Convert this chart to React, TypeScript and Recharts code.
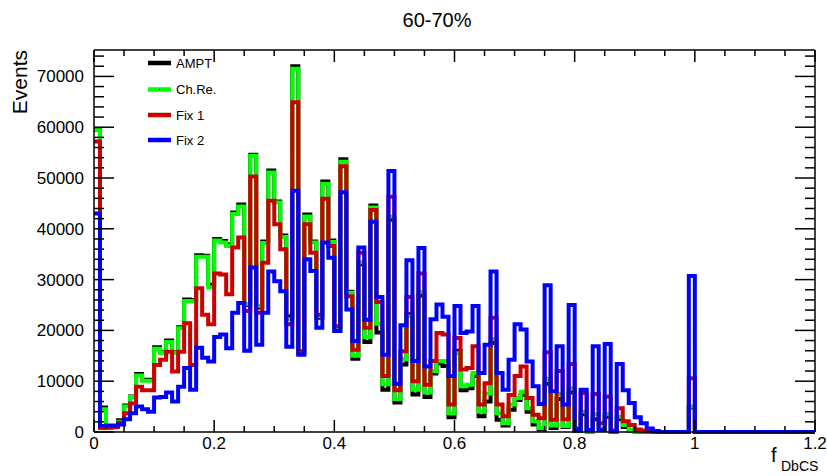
import React from 'react';
import { LineChart, Line, XAxis, YAxis, ReferenceLine } from 'recharts';

// ---- data (bin contents, bin width 0.01, bins 0.00 .. 0.99; 1.00..1.19 empty) ----
const BIN_WIDTH = 0.01;
const N_BINS = 120;

const ampt = [
  59600, 4800, 800, 1000, 2300, 5200, 7000, 11400, 10300, 10300,
  16700, 15700, 18000, 15700, 20600, 26100, 26000, 34800, 34700, 29000,
  38000, 37600, 36900, 43200, 44800, 25000, 54600, 24500, 37500, 51500,
  45400, 38700, 22800, 72000, 15500, 42800, 37500, 22500, 49300, 37700,
  20000, 53700, 27600, 14400, 33000, 17700, 44600, 19600, 8300, 41800,
  5800, 13300, 23200, 7400, 26800, 6900, 11500, 13500, 13000, 2900,
  16000, 8200, 8600, 11000, 3100, 6000, 17500, 2400, 1300, 4400,
  6300, 7300, 4000, 1500, 500, 9500, 800, 6500, 1000, 7800,
  200, 3500, 100, 2500, 400, 3000, 100, 2500, 1000, 300,
  100, 50, 0, 0, 0, 0, 0, 0, 0, 4800,
];

const chRe = [
  59400, 4500, 800, 1000, 2000, 5000, 6900, 11100, 10100, 10100,
  16400, 15600, 17700, 15600, 20400, 25800, 25800, 34500, 34500, 28500,
  37700, 37300, 36600, 42900, 44400, 25200, 54400, 24800, 37200, 51100,
  45200, 38400, 22200, 71500, 15900, 42400, 37300, 22800, 48800, 37400,
  20300, 53200, 27400, 15000, 33400, 18700, 44200, 21300, 9400, 42400,
  6500, 14300, 22800, 8300, 27600, 7800, 12000, 14000, 14000, 3700,
  15500, 9000, 9300, 11600, 4000, 7600, 18300, 3700, 1700, 5400,
  6700, 7900, 4700, 2100, 800, 10500, 1300, 7500, 1200, 8600,
  300, 4000, 200, 3500, 700, 3500, 100, 3000, 1400, 400,
  200, 100, 0, 0, 0, 0, 0, 0, 0, 5000,
];

const fix1 = [
  57200, 800, 900, 1000, 1800, 3700, 5600, 8900, 8200, 8200,
  13200, 14200, 15800, 11900, 15800, 21400, 13200, 28300, 23100, 21200,
  31200, 31000, 27100, 36300, 38300, 23800, 50300, 23500, 33300, 45500,
  40900, 36000, 21200, 64900, 15900, 40900, 35300, 23100, 45900, 36600,
  20800, 52300, 26700, 16200, 35300, 20500, 43700, 25600, 11000, 46300,
  8200, 15900, 26600, 10000, 31200, 9300, 14000, 19500, 19200, 5400,
  18500, 12300, 12600, 16900, 5400, 9600, 22500, 5400, 3100, 7300,
  11000, 12900, 6700, 3400, 2700, 15700, 2400, 12000, 2500, 13400,
  700, 7700, 400, 7500, 1700, 7000, 300, 4700, 2100, 1400,
  500, 300, 100, 0, 0, 0, 0, 0, 0, 10600,
];

const fix2 = [
  43000, 1200, 1300, 1300, 1500, 2500, 3700, 5000, 4500, 4000,
  6800, 6900, 7800, 6000, 8900, 12600, 8300, 16600, 14600, 13900,
  18700, 19200, 16500, 23500, 25400, 16000, 32400, 17200, 23500, 31600,
  29700, 27700, 16800, 47500, 15200, 34000, 31700, 20500, 37300, 34300,
  19900, 47200, 24100, 17900, 36300, 22100, 41400, 26600, 15200, 51400,
  9500, 21000, 33800, 14000, 36200, 12900, 22200, 25100, 22700, 11000,
  24800, 19500, 19800, 24800, 11600, 17200, 31600, 11600, 8300, 14200,
  21200, 20200, 13900, 9000, 5500, 28900, 8000, 16900, 5400, 25000,
  400, 8300, 400, 16900, 400, 17300, 100, 13400, 8200, 5700,
  2900, 1700, 700, 200, 0, 0, 0, 0, 0, 30700,
];

const xMajorTicks = [0, 0.2, 0.4, 0.6, 0.8, 1, 1.2];
const xMinorTicks = [0.05, 0.1, 0.15, 0.25, 0.3, 0.35, 0.45, 0.5, 0.55, 0.65, 0.7, 0.75, 0.85, 0.9, 0.95, 1.05, 1.1, 1.15];
const yMajorTicks = [0, 10000, 20000, 30000, 40000, 50000, 60000, 70000];
const yMinorTicks = Array.from({ length: 38 }, (_, i) => i * 2000).filter((v) => v % 10000 !== 0);

const X_DOMAIN = [0, 1.2];
const Y_DOMAIN = [0, 75200];

const seriesInfo = [
  { key: 'ampt', name: 'AMPT', color: '#000000' },
  { key: 'chRe', name: 'Ch.Re.', color: '#00ff00' },
  { key: 'fix1', name: 'Fix 1', color: '#cc0000' },
  { key: 'fix2', name: 'Fix 2', color: '#0000ff' },
];

const valueAt = (arr: number[], i: number) => (i < arr.length ? arr[i] : 0);

const rows = Array.from({ length: N_BINS + 1 }, (_, i) => {
  const b = Math.min(i, N_BINS - 1);
  return {
    x: Math.round(i * BIN_WIDTH * 100) / 100,
    ampt: valueAt(ampt, b),
    chRe: valueAt(chRe, b),
    fix1: valueAt(fix1, b),
    fix2: valueAt(fix2, b),
  };
});

// ---- layout ----
const W = 827;
const H = 476;
const M_TOP = 50;
const M_RIGHT = 12;
const X_AXIS_H = 44;
const Y_AXIS_W = 94;
const PLOT_TOP = M_TOP;
const PLOT_BOTTOM = H - X_AXIS_H;
const PLOT_LEFT = Y_AXIS_W;
const PLOT_RIGHT = W - M_RIGHT;

const FONT = "'Liberation Sans', Arial, Helvetica, sans-serif";
const fmtX = (v: number) => String(Math.round(v * 10) / 10);
const isXMajor = (v: number) => xMajorTicks.some((t) => Math.abs(t - v) < 1e-6);
const isYMajor = (v: number) => yMajorTicks.includes(v);

const TICK_STROKE = 1.5;

const XTick = (props: any) => {
  const { x, y, payload } = props;
  const v = payload.value as number;
  const major = isXMajor(v);
  const len = major ? 12 : 6;
  return (
    <g>
      <line x1={x} x2={x} y1={PLOT_BOTTOM} y2={PLOT_BOTTOM - len} stroke="#000" strokeWidth={TICK_STROKE} />
      <line x1={x} x2={x} y1={PLOT_TOP} y2={PLOT_TOP + len} stroke="#000" strokeWidth={TICK_STROKE} />
      {major && (
        <text x={x} y={y + 12} textAnchor="middle" fontSize={17} fontFamily={FONT} fill="#000">
          {fmtX(v)}
        </text>
      )}
    </g>
  );
};

const YTick = (props: any) => {
  const { x, y, payload } = props;
  const v = payload.value as number;
  const major = isYMajor(v);
  const len = major ? 20 : 10;
  return (
    <g>
      <line x1={PLOT_LEFT} x2={PLOT_LEFT + len} y1={y} y2={y} stroke="#000" strokeWidth={TICK_STROKE} />
      <line x1={PLOT_RIGHT} x2={PLOT_RIGHT - len} y1={y} y2={y} stroke="#000" strokeWidth={TICK_STROKE} />
      {major && (
        <text x={x} y={y + 6} textAnchor="end" fontSize={17} fontFamily={FONT} fill="#000">
          {v}
        </text>
      )}
    </g>
  );
};

const allXTicks = [...xMajorTicks, ...xMinorTicks].sort((a, b) => a - b);
const allYTicks = [...yMajorTicks, ...yMinorTicks].sort((a, b) => a - b);

export default function App() {
  return (
    <div style={{ position: 'absolute', left: 0, top: 0, width: W, height: H, background: '#fff' }}>
      <LineChart width={W} height={H} data={rows} margin={{ top: M_TOP, right: M_RIGHT, bottom: 0, left: 0 }}>
        <XAxis
          xAxisId="main"
          dataKey="x"
          type="number"
          domain={X_DOMAIN}
          ticks={allXTicks}
          interval={0}
          axisLine={{ stroke: '#000', strokeWidth: 1.5 }}
          tickLine={false}
          tickSize={0}
          tickMargin={5}
          height={X_AXIS_H}
          tick={<XTick />}
        />
        <YAxis
          yAxisId="main"
          type="number"
          domain={Y_DOMAIN}
          ticks={allYTicks}
          interval={0}
          axisLine={{ stroke: '#000', strokeWidth: 1.5 }}
          tickLine={false}
          tickSize={0}
          tickMargin={10}
          width={Y_AXIS_W}
          tick={<YTick />}
        />
        <ReferenceLine xAxisId="main" yAxisId="main" y={Y_DOMAIN[1]} stroke="#000" strokeWidth={1.5} />
        <ReferenceLine xAxisId="main" yAxisId="main" x={X_DOMAIN[1]} stroke="#000" strokeWidth={1.5} />

        {seriesInfo.map((s) => (
          <Line
            key={s.key}
            xAxisId="main"
            yAxisId="main"
            type="stepAfter"
            dataKey={s.key}
            name={s.name}
            stroke={s.color}
            strokeWidth={4}
            strokeLinejoin="miter"
            dot={false}
            activeDot={false}
            isAnimationActive={false}
          />
        ))}
      </LineChart>

      <svg width={W} height={H} style={{ position: 'absolute', left: 0, top: 0, pointerEvents: 'none' }}>
        <text x={437} y={27} textAnchor="middle" fontSize={20} fontFamily={FONT} fill="#000">60-70%</text>
        <text transform="translate(26.5,50) rotate(-90)" textAnchor="end" fontSize={21} fontFamily={FONT} fill="#000">Events</text>
        <text x={771} y={462} fontSize={20} fontFamily={FONT} fill="#000">f</text>
        <text x={781} y={471} fontSize={14} fontFamily={FONT} fill="#000">DbCS</text>
        {seriesInfo.map((s, i) => {
          const cy = [63, 89.5, 115, 140][i];
          return (
            <g key={s.key}>
              <line x1={148} x2={171} y1={cy} y2={cy} stroke={s.color} strokeWidth={4.5} />
              <rect x={159} y={cy - 0.5} width={1} height={1} fill="#000" />
              <text x={176} y={cy + 4.6} fontSize={13} fontFamily={FONT} fill="#000">{s.name}</text>
            </g>
          );
        })}
      </svg>
    </div>
  );
}
